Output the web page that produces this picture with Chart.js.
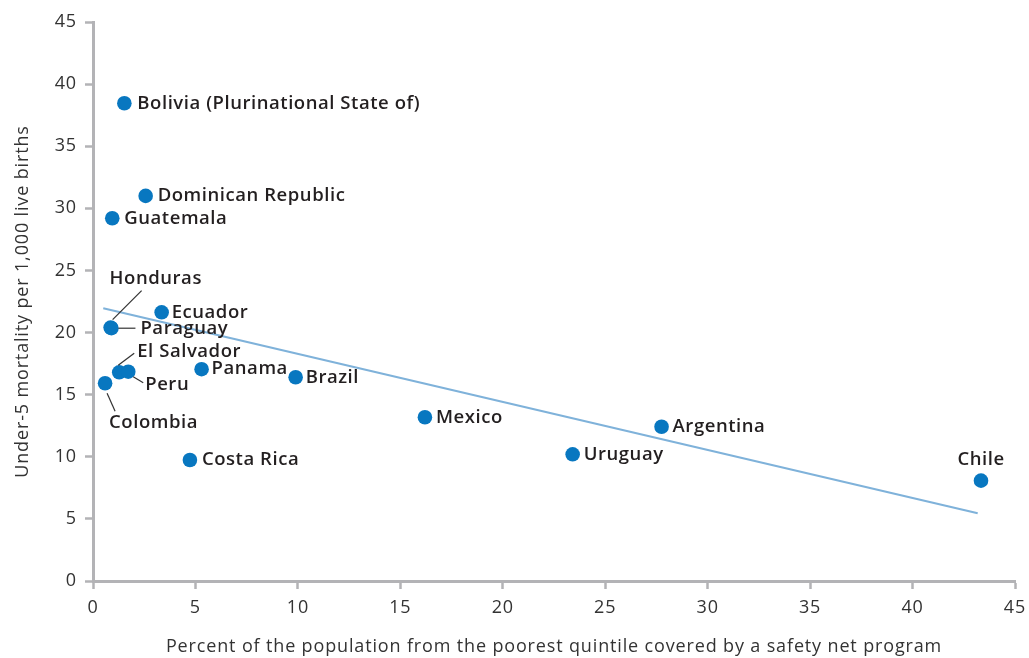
<!DOCTYPE html>
<html>
<head>
<meta charset="utf-8">
<script src="https://cdn.jsdelivr.net/npm/chart.js@4.4.1/dist/chart.umd.min.js"></script>
<style>
  html, body { margin: 0; padding: 0; background: #ffffff; }
  #wrap { width: 1029px; height: 658px; }
</style>
</head>
<body>
<div id="wrap"><canvas id="c" width="1029" height="658"></canvas></div>
<script>
// ---- data ----
const countries = ["Bolivia (Plurinational State of)", "Dominican Republic", "Guatemala", "Ecuador",
  "Honduras", "Paraguay", "El Salvador", "Peru", "Colombia", "Panama", "Brazil", "Costa Rica",
  "Mexico", "Uruguay", "Argentina", "Chile"];
const coverage = [1.53, 2.57, 0.94, 3.35, 0.86, 0.90, 1.28, 1.72, 0.59, 5.30, 9.89, 4.73, 16.2, 23.41, 27.75, 43.34];
const mortality = [38.46, 31.0, 29.2, 21.63, 20.4, 20.35, 16.8, 16.85, 15.92, 17.05, 16.4, 9.74, 13.18, 10.2, 12.42, 8.08];
const trendX = [0.5, 43.18];
const trendY = [21.96, 5.45];
const xTicks = [0, 5, 10, 15, 20, 25, 30, 35, 40, 45];
const yTicks = [0, 5, 10, 15, 20, 25, 30, 35, 40, 45];
const xTitle = "Percent of the population from the poorest quintile covered by a safety net program";
const yTitle = "Under-5 mortality per 1,000 live births";

// ---- label layout (pixel offsets from point; leader lines) ----
const labelLayout = {
  "Bolivia (Plurinational State of)": { dx: 13, dy: 0 },
  "Dominican Republic": { dx: 12, dy: 0 },
  "Guatemala": { dx: 12, dy: 0 },
  "Ecuador": { dx: 10, dy: 0 },
  "Honduras": { dx: -1, dy: -49, leader: [[31, -37], [2, -8]] },
  "Paraguay": { dx: 29, dy: 1, leader: [[7, 0], [24, 0]] },
  "El Salvador": { dx: 18, dy: -21, leader: [[15, -19], [-1, -7]] },
  "Peru": { dx: 17, dy: 13, leader: [[5, 5], [15, 11]] },
  "Colombia": { dx: 4, dy: 39, leader: [[2, 10], [10, 28]] },
  "Panama": { dx: 10, dy: 0 },
  "Brazil": { dx: 10, dy: 0 },
  "Costa Rica": { dx: 12, dy: 0 },
  "Mexico": { dx: 11, dy: 0 },
  "Uruguay": { dx: 11, dy: 0 },
  "Argentina": { dx: 11, dy: 0 },
  "Chile": { dx: 0, dy: -21, align: "center" }
};

const pts = coverage.map((x, i) => ({ x: x, y: mortality[i], name: countries[i] }));
const trend = trendX.map((x, i) => ({ x: x, y: trendY[i] }));

const axisGray = "#b3b3b6";
const FONT = "'Open Sans', 'DejaVu Sans', sans-serif";

const spacingPlugin = {
  id: "spacing",
  beforeUpdate(chart) { chart.ctx.letterSpacing = "0.85px"; },
  beforeLayout(chart) { chart.ctx.letterSpacing = "0.85px"; },
  beforeDraw(chart) { chart.ctx.letterSpacing = "0.85px"; }
};

const labelPlugin = {
  id: "pointLabels",
  afterDatasetsDraw(chart) {
    const ctx = chart.ctx;
    const xs = chart.scales.x, ys = chart.scales.y;
    ctx.save();
    ctx.letterSpacing = "0.55px";
    ctx.font = "600 18.5px " + FONT;
    ctx.fillStyle = "#231f20";
    ctx.textBaseline = "middle";
    pts.forEach(p => {
      const L = labelLayout[p.name];
      if (!L) return;
      const px = xs.getPixelForValue(p.x), py = ys.getPixelForValue(p.y);
      if (L.leader) {
        ctx.beginPath();
        ctx.strokeStyle = "#333333";
        ctx.lineWidth = 1.2;
        ctx.moveTo(px + L.leader[0][0], py + L.leader[0][1]);
        ctx.lineTo(px + L.leader[1][0], py + L.leader[1][1]);
        ctx.stroke();
      }
      ctx.textAlign = L.align || "left";
      ctx.fillText(p.name, px + L.dx, py + L.dy);
    });
    ctx.restore();
  }
};

new Chart(document.getElementById("c"), {
  type: "scatter",
  data: {
    datasets: [
      {
        type: "line",
        data: trend,
        borderColor: "#7fb2da",
        borderWidth: 2.2,
        pointRadius: 0,
        fill: false,
        order: 2
      },
      {
        data: pts,
        backgroundColor: "#0877c0",
        borderColor: "#0877c0",
        borderWidth: 0,
        pointRadius: 7.3,
        pointHoverRadius: 7.3,
        order: 1
      }
    ]
  },
  options: {
    responsive: false,
    animation: false,
    devicePixelRatio: 1,
    layout: { padding: { top: 22, right: 14, left: 0, bottom: 0 } },
    plugins: { legend: { display: false }, tooltip: { enabled: false } },
    scales: {
      x: {
        type: "linear",
        min: 0, max: 45,
        afterBuildTicks: s => { s.ticks = xTicks.map(v => ({ value: v })); },
        afterFit: s => { s.height = 77; s.paddingLeft = 0; s.paddingRight = 0; },
        grid: { drawOnChartArea: false, drawTicks: true, tickLength: 8, color: axisGray, tickWidth: 2.5 },
        border: { display: true, color: axisGray, width: 3 },
        ticks: { padding: 8, color: "#333333", font: { family: FONT, size: 18, weight: 400 }, maxRotation: 0 },
        title: { display: true, text: xTitle, color: "#333333", font: { family: FONT, size: 18, weight: 400 }, padding: { top: 9, bottom: 0 } }
      },
      y: {
        type: "linear",
        min: 0, max: 45,
        afterBuildTicks: s => { s.ticks = yTicks.map(v => ({ value: v })); },
        afterFit: s => { s.width = 93; s.paddingTop = 0; s.paddingBottom = 0; },
        grid: { drawOnChartArea: false, drawTicks: true, tickLength: 8, color: axisGray, tickWidth: 2.5 },
        border: { display: true, color: axisGray, width: 3 },
        ticks: { padding: 8, color: "#333333", font: { family: FONT, size: 18, weight: 400 } },
        title: { display: true, text: yTitle, color: "#333333", font: { family: FONT, size: 18, weight: 400 }, padding: { top: 12, bottom: 0 } }
      }
    }
  },
  plugins: [spacingPlugin, labelPlugin]
});
</script>
</body>
</html>
